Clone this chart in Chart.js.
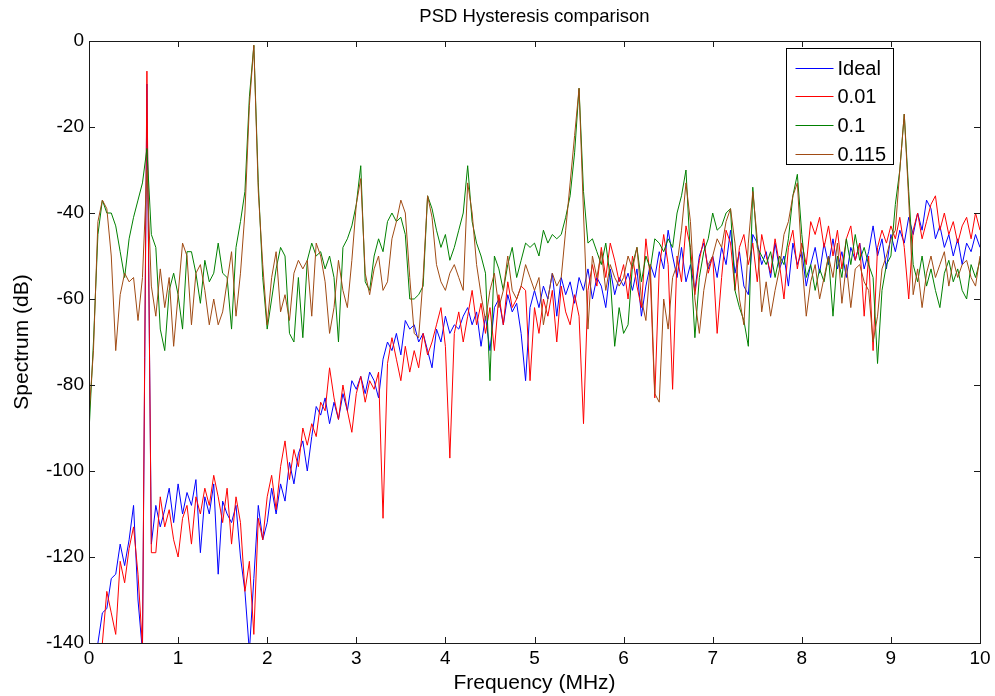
<!DOCTYPE html>
<html>
<head>
<meta charset="utf-8">
<script src="https://cdn.jsdelivr.net/npm/chart.js@4.4.1/dist/chart.umd.min.js"></script>
<style>
html,body{margin:0;padding:0;background:#ffffff;}
#wrap{width:995px;height:696px;position:relative;}
</style>
</head>
<body>
<div id="wrap"><canvas id="c" width="995" height="696"></canvas></div>
<script>
// Frequency axis (MHz)
const freqMHz = [
0,0.05,0.1,0.15,0.2,0.25,0.3,0.35,0.4,0.45,
0.5,0.55,0.6,0.65,0.7,0.75,0.8,0.85,0.9,0.95,
1,1.05,1.1,1.15,1.2,1.25,1.3,1.35,1.4,1.45,
1.5,1.55,1.6,1.65,1.7,1.75,1.8,1.85,1.9,1.95,
2,2.05,2.1,2.15,2.2,2.25,2.3,2.35,2.4,2.45,
2.5,2.55,2.6,2.65,2.7,2.75,2.8,2.85,2.9,2.95,
3,3.05,3.1,3.15,3.2,3.25,3.3,3.35,3.4,3.45,
3.5,3.55,3.6,3.65,3.7,3.75,3.8,3.85,3.9,3.95,
4,4.05,4.1,4.15,4.2,4.25,4.3,4.35,4.4,4.45,
4.5,4.55,4.6,4.65,4.7,4.75,4.8,4.85,4.9,4.95,
5,5.05,5.1,5.15,5.2,5.25,5.3,5.35,5.4,5.45,
5.5,5.55,5.6,5.65,5.7,5.75,5.8,5.85,5.9,5.95,
6,6.05,6.1,6.15,6.2,6.25,6.3,6.35,6.4,6.45,
6.5,6.55,6.6,6.65,6.7,6.75,6.8,6.85,6.9,6.95,
7,7.05,7.1,7.15,7.2,7.25,7.3,7.35,7.4,7.45,
7.5,7.55,7.6,7.65,7.7,7.75,7.8,7.85,7.9,7.95,
8,8.05,8.1,8.15,8.2,8.25,8.3,8.35,8.4,8.45,
8.5,8.55,8.6,8.65,8.7,8.75,8.8,8.85,8.9,8.95,
9,9.05,9.1,9.15,9.2,9.25,9.3,9.35,9.4,9.45,
9.5,9.55,9.6,9.65,9.7,9.75,9.8,9.85,9.9,9.95,10
];

// PSD values (dB)
const ideal = [
-150,-148,-140,-133,-132,-125,-124,-117,-122,-116,
-108,-130,-142,-10,-117,-108,-113,-109,-104,-112,
-103,-110,-105,-108,-102,-119,-106,-110,-103,-124,
-107,-110,-112,-108,-120,-128,-142,-125,-108,-116,
-112,-104,-110,-103,-107,-98,-103,-96,-93,-100,
-92,-85,-87,-83,-89,-84,-88,-82,-86,-79,
-81,-78,-82,-77,-79,-83,-74,-70,-72,-68,
-73,-65,-67,-66,-70,-68,-72,-76,-67,-70,
-64,-68,-66,-67,-64,-62,-66,-63,-71,-64,
-72,-62,-60,-66,-59,-63,-61,-68,-79,-62,
-58,-62,-57,-60,-54,-64,-55,-59,-56,-61,
-55,-58,-53,-60,-55,-57,-62,-53,-59,-55,
-57,-54,-58,-53,-64,-57,-52,-55,-49,-53,
-44,-50,-55,-48,-56,-52,-58,-50,-47,-53,
-50,-55,-48,-52,-44,-54,-49,-57,-59,-45,
-47,-52,-49,-55,-47,-53,-50,-57,-47,-52,
-49,-57,-52,-48,-54,-47,-52,-46,-53,-49,
-55,-48,-51,-47,-53,-49,-43,-50,-46,-53,
-45,-49,-44,-47,-41,-45,-40,-44,-37,-39,
-46,-43,-48,-45,-50,-46,-52,-47,-49,-45,-48
];

const hyst001 = [
-150,-150,-145,-140,-128,-133,-138,-121,-126,-118,
-113,-124,-141,-7,-119,-119,-106,-113,-109,-116,
-120,-111,-108,-117,-106,-110,-104,-108,-101,-106,
-112,-104,-117,-106,-112,-128,-121,-138,-111,-116,
-106,-101,-109,-99,-93,-102,-95,-99,-90,-94,
-89,-92,-84,-86,-76,-83,-88,-80,-86,-91,
-82,-78,-84,-79,-81,-77,-111,-75,-69,-74,
-79,-71,-77,-72,-76,-68,-73,-70,-66,-62,
-71,-97,-68,-63,-70,-64,-58,-66,-61,-68,
-62,-72,-59,-66,-56,-62,-60,-57,-58,-79,
-62,-68,-60,-64,-58,-70,-57,-63,-66,-59,
-64,-89,-58,-52,-57,-48,-55,-47,-51,-56,
-52,-60,-50,-57,-62,-46,-55,-83,-53,-45,
-52,-81,-50,-56,-43,-48,-59,-51,-46,-54,
-50,-68,-55,-44,-47,-58,-48,-45,-52,-47,
-56,-45,-50,-54,-46,-52,-60,-48,-44,-53,
-47,-52,-42,-45,-41,-48,-43,-50,-44,-53,
-46,-43,-51,-47,-64,-50,-72,-48,-44,-47,
-43,-46,-41,-48,-60,-44,-40,-46,-42,-38,
-36,-44,-40,-45,-42,-47,-43,-41,-46,-40,-44
];

const hyst01 = [
-91,-70,-45,-37,-40,-40,-43,-49,-55,-46,
-41,-37,-33,-25,-45,-48,-67,-72,-58,-54,
-59,-67,-49,-49,-54,-61,-51,-56,-54,-47,
-54,-55,-67,-48,-42,-35,-13,-1,-33,-55,
-67,-60,-53,-48,-50,-68,-70,-55,-69,-51,
-47,-50,-49,-53,-50,-55,-70,-48,-46,-43,
-38,-29,-56,-58,-50,-46,-49,-42,-40,-42,
-41,-45,-60,-60,-59,-57,-36,-39,-44,-48,
-45,-51,-48,-44,-40,-29,-42,-47,-50,-54,
-79,-50,-53,-58,-52,-48,-55,-51,-47,-48,
-47,-50,-44,-47,-45,-46,-45,-41,-36,-26,
-11,-35,-47,-46,-49,-52,-47,-55,-71,-62,
-68,-66,-52,-48,-56,-50,-53,-46,-47,-49,
-46,-48,-40,-36,-30,-50,-69,-55,-49,-46,
-40,-44,-43,-40,-39,-58,-62,-65,-71,-34,
-48,-50,-52,-49,-55,-50,-52,-46,-36,-31,
-45,-55,-52,-58,-53,-56,-50,-64,-50,-55,
-46,-52,-45,-51,-48,-52,-55,-75,-58,-52,
-50,-38,-30,-17,-35,-52,-56,-50,-57,-53,
-58,-62,-54,-51,-56,-53,-58,-60,-52,-55,-51
];

const hyst0115 = [
-87,-72,-42,-37,-39,-50,-72,-59,-54,-56,
-55,-65,-55,-30,-57,-64,-53,-62,-55,-71,
-59,-47,-50,-66,-54,-52,-58,-66,-60,-66,
-63,-56,-49,-64,-54,-40,-15,-1,-35,-52,
-66,-55,-49,-63,-59,-65,-54,-51,-53,-51,
-64,-47,-50,-56,-68,-62,-51,-58,-62,-51,
-38,-32,-54,-59,-53,-50,-58,-56,-46,-42,
-37,-40,-55,-68,-69,-55,-36,-41,-52,-56,
-58,-54,-52,-55,-58,-33,-40,-52,-59,-65,
-58,-54,-62,-58,-50,-58,-60,-57,-52,-55,
-58,-55,-66,-60,-54,-57,-55,-44,-33,-22,
-11,-40,-67,-50,-55,-49,-58,-52,-55,-57,
-55,-50,-53,-48,-60,-65,-52,-82,-84,-60,
-67,-55,-52,-44,-33,-42,-60,-68,-58,-52,
-50,-46,-48,-42,-39,-47,-60,-66,-47,-35,
-46,-63,-56,-64,-58,-53,-45,-42,-36,-33,
-51,-64,-56,-52,-60,-55,-50,-55,-47,-61,
-52,-62,-53,-52,-56,-58,-70,-64,-53,-50,
-46,-44,-30,-17,-37,-59,-53,-62,-54,-50,
-55,-52,-49,-57,-51,-55,-52,-51,-55,-57,-50
];

const seriesLabels = ['Ideal', '0.01', '0.1', '0.115'];
const xTickValues = [0,1,2,3,4,5,6,7,8,9,10];
const yTickValues = [-140,-120,-100,-80,-60,-40,-20,0];

const seriesValues = [ideal, hyst001, hyst01, hyst0115];
const seriesColors = ['#0000ff', '#ff0000', '#008000', '#a04b14'];
const seriesOrder = [4, 3, 2, 1];

const datasets = seriesValues.map((vals, i) => ({
  label: seriesLabels[i],
  data: vals.map((v, k) => ({x: freqMHz[k], y: v})),
  borderColor: seriesColors[i],
  backgroundColor: seriesColors[i],
  borderWidth: 1,
  pointRadius: 0,
  pointHoverRadius: 0,
  tension: 0,
  fill: false,
  order: seriesOrder[i]
}));

const FONT = "'Liberation Sans', Arial, Helvetica, sans-serif";
const AXIS_COLOR = '#1a1a1a';

const framePlugin = {
  id: 'matlabFrame',
  afterDatasetsDraw(chart) {
    const ctx = chart.ctx;
    const a = chart.chartArea;
    const xs = chart.scales.x, ys = chart.scales.y;
    const tl = 6;
    ctx.save();
    ctx.strokeStyle = AXIS_COLOR;
    ctx.lineWidth = 1;
    ctx.beginPath();
    xTickValues.forEach(v => {
      const px = Math.round(xs.getPixelForValue(v)) + 0.5;
      ctx.moveTo(px, a.bottom); ctx.lineTo(px, a.bottom - tl);
      ctx.moveTo(px, a.top); ctx.lineTo(px, a.top + tl);
    });
    yTickValues.forEach(v => {
      const py = Math.round(ys.getPixelForValue(v)) + 0.5;
      ctx.moveTo(a.left, py); ctx.lineTo(a.left + tl, py);
      ctx.moveTo(a.right, py); ctx.lineTo(a.right - tl, py);
    });
    ctx.stroke();
    ctx.strokeRect(Math.round(a.left) + 0.5, Math.round(a.top) + 0.5,
                   Math.round(a.right - a.left), Math.round(a.bottom - a.top));
    ctx.restore();
  }
};

const legendPlugin = {
  id: 'boxLegend',
  afterDraw(chart) {
    const ctx = chart.ctx;
    const a = chart.chartArea;
    const bx = Math.round(a.right - 194) + 0.5;
    const by = Math.round(a.top + 7) + 0.5;
    const bw = 107, bh = 116;
    ctx.save();
    ctx.fillStyle = '#ffffff';
    ctx.fillRect(bx, by, bw, bh);
    ctx.strokeStyle = '#000000';
    ctx.lineWidth = 1;
    ctx.strokeRect(bx, by, bw, bh);
    ctx.font = '20px ' + FONT;
    ctx.textBaseline = 'middle';
    ctx.textAlign = 'left';
    chart.data.datasets.forEach((ds, i) => {
      const cy = Math.round(by + 19 + i * 28.7) + 0.5;
      ctx.strokeStyle = ds.borderColor;
      ctx.lineWidth = 1;
      ctx.beginPath();
      ctx.moveTo(bx + 9, cy);
      ctx.lineTo(bx + 47, cy);
      ctx.stroke();
      ctx.fillStyle = '#000000';
      ctx.fillText(ds.label, bx + 51, cy + 1);
    });
    ctx.restore();
  }
};

new Chart(document.getElementById('c'), {
  type: 'line',
  data: { datasets },
  options: {
    responsive: false,
    animation: false,
    devicePixelRatio: 1,
    layout: { padding: { left: 0, right: 15, top: 0, bottom: 0 } },
    plugins: {
      legend: { display: false },
      tooltip: { enabled: false },
      title: {
        display: true,
        text: 'PSD Hysteresis comparison',
        fullSize: false,
        color: '#000000',
        font: { family: FONT, size: 18.5, weight: 'normal' },
        padding: { top: 6, bottom: 12.8 }
      }
    },
    scales: {
      x: {
        type: 'linear',
        min: 0, max: 10,
        afterBuildTicks: s => { s.ticks = xTickValues.map(v => ({value: v})); },
        afterFit: s => { s.height = 53; },
        grid: { display: false, drawTicks: false },
        border: { display: false },
        ticks: {
          color: '#000000',
          font: { family: FONT, size: 19 },
          padding: 4,
          maxRotation: 0,
          autoSkip: false,
          callback: v => String(v)
        },
        title: {
          display: true,
          text: 'Frequency (MHz)',
          color: '#000000',
          font: { family: FONT, size: 21 },
          padding: { top: 0, bottom: 0.5 }
        }
      },
      y: {
        type: 'linear',
        min: -140, max: 0,
        afterBuildTicks: s => { s.ticks = yTickValues.map(v => ({value: v})); },
        afterFit: s => { s.width = 89; },
        grid: { display: false, drawTicks: false },
        border: { display: false },
        ticks: {
          color: '#000000',
          font: { family: FONT, size: 19 },
          padding: 5,
          autoSkip: false,
          callback: v => String(v)
        },
        title: {
          display: true,
          text: 'Spectrum (dB)',
          color: '#000000',
          font: { family: FONT, size: 21 },
          padding: { top: 9.5, bottom: 0 }
        }
      }
    }
  },
  plugins: [framePlugin, legendPlugin]
});
</script>
</body>
</html>
